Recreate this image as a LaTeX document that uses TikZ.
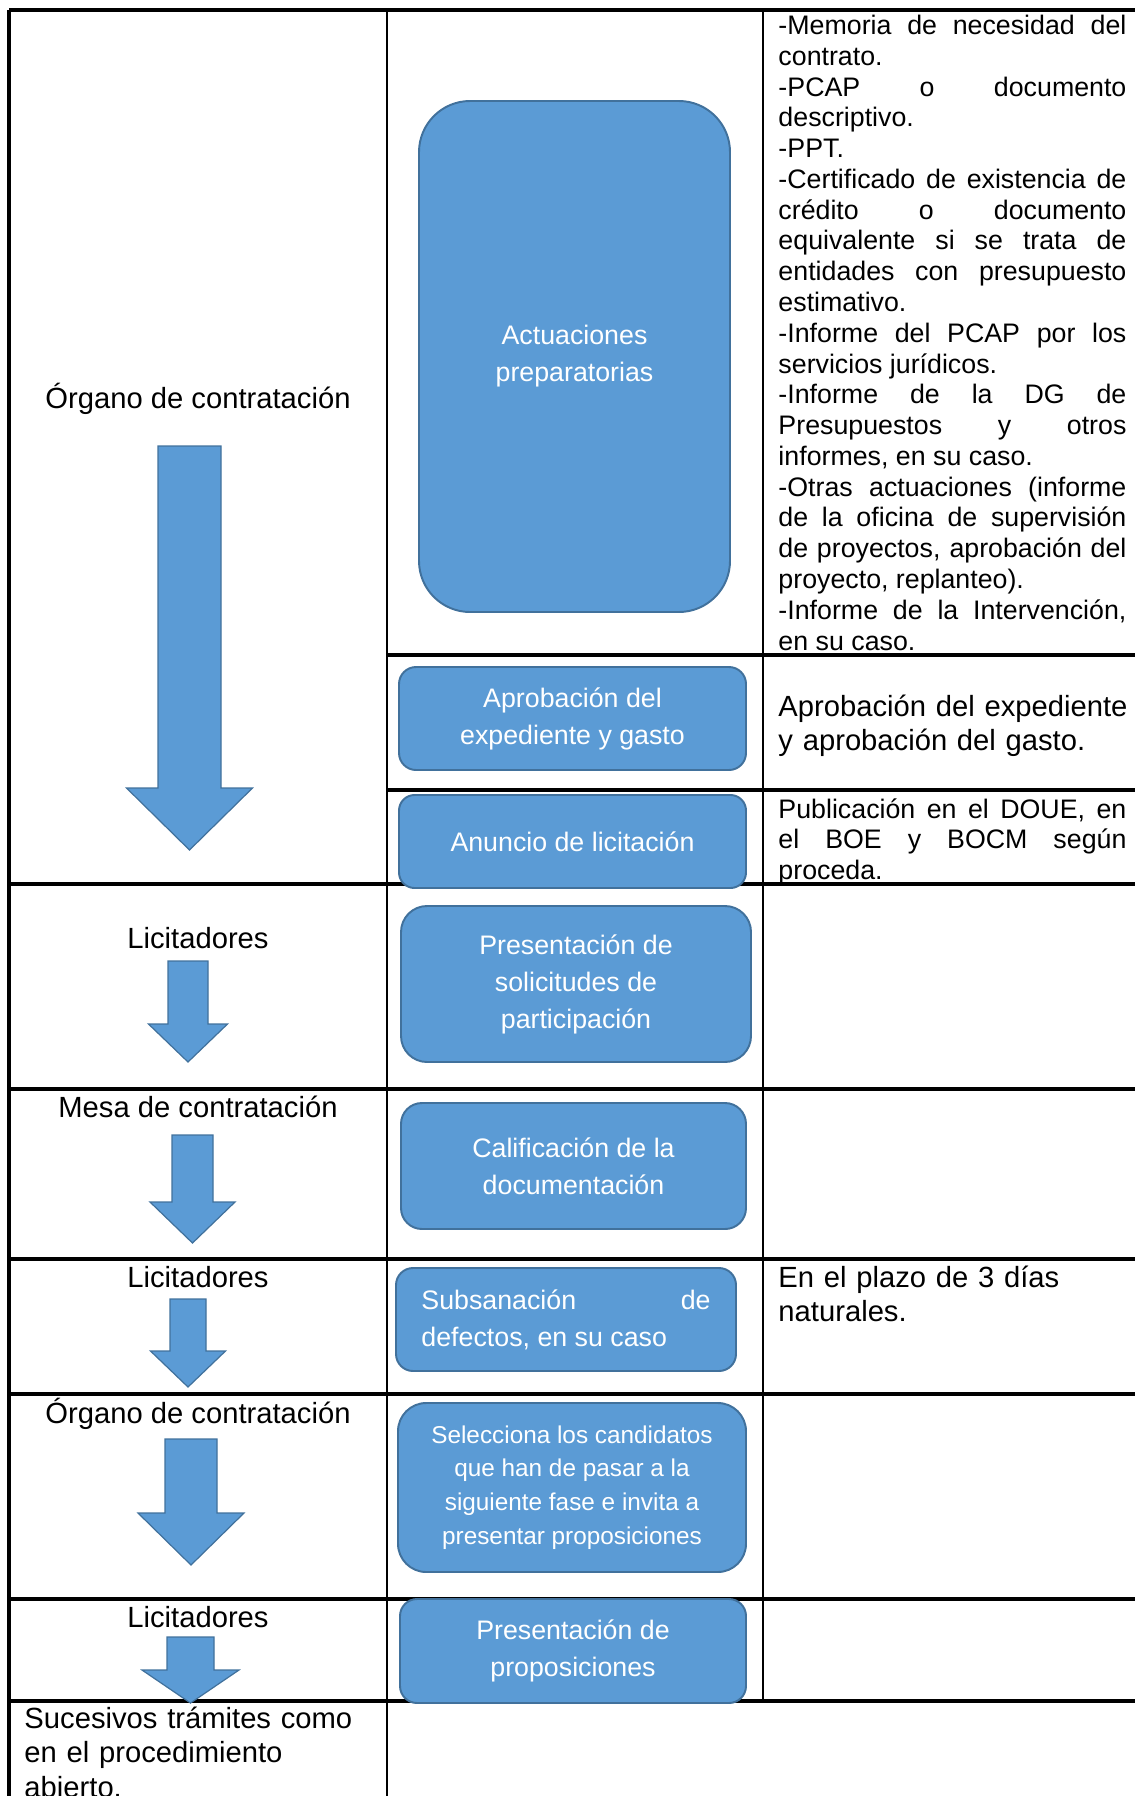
\documentclass[tikz,border=0pt]{standalone}
\usepackage{fontspec}
\setmainfont{Liberation Sans}
\definecolor{stageblue}{RGB}{91,155,213}
\definecolor{stageedge}{RGB}{65,113,156}
% block arrow: centre x, top, shaft half width, head y, head half width, tip y
\newcommand{\blockarrow}[6]{%
  \draw[downblock] (#1-#3,#2) -- (#1+#3,#2) -- (#1+#3,#4) -- (#1+#5,#4) -- (#1,#6) -- (#1-#5,#4) -- (#1-#3,#4) -- cycle;}
\tikzset{
  rule/.style={line width=1.3pt},
  thinrule/.style={line width=0.6pt},
  stage/.style={draw=stageedge, fill=stageblue, line width=0.8pt, text=white,
    font=\fontsize{11}{15.2}\selectfont, align=center, inner sep=0pt},
  stagesize/.style n args={3}{minimum width=#1*0.411pt, minimum height=#2*0.411pt, rounded corners=#3pt},
  downblock/.style={draw=stageedge, fill=stageblue, line width=0.5pt},
  who/.style={font=\fontsize{12}{14.2}\selectfont, anchor=base, inner sep=0pt},
  note/.style={font=\fontsize{11}{12.65}\selectfont, text width=143pt, align=justify,
    anchor=base west, inner sep=0pt},
}

\begin{document}
\begin{tikzpicture}[x=0.411pt, y=-0.411pt]
    \useasboundingbox (0,0) rectangle (1134,1796);

    % Table rules
    \draw[thinrule] (387,10) -- (387,1800);
    \draw[thinrule] (763,10) -- (763,1701);
    \draw[rule] (9,10) -- (1140,10);
    \draw[rule] (9,10) -- (9,1800);
    \draw[rule] (387,655) -- (1140,655);
    \draw[rule] (387,790) -- (1140,790);
    \foreach \y in {884,1089,1259,1394,1599,1701}
        \draw[rule] (9,\y) -- (1140,\y);

    % Who acts (left column)
    \node[who] (organo) at (198,408) {Órgano de contratación};
    \node[who] (licit) at (198,948) {Licitadores};
    \node[who] (mesa) at (198,1117) {Mesa de contratación};
    \node[who] (licitb) at (198,1287) {Licitadores};
    \node[who] (organob) at (198,1423) {Órgano de contratación};
    \node[who] (licitc) at (198,1627) {Licitadores};
    \node[who, anchor=base west, text width=150pt, align=left] (resto) at (24,1728)
        {Sucesivos trámites como\\en el procedimiento\\abierto.};

    % Block arrows
    \blockarrow{189.5}{446}{31.5}{788}{63}{850}
    \blockarrow{188}{961}{20}{1024}{39.5}{1062}
    \blockarrow{192.5}{1135}{20.5}{1202}{42.5}{1243}
    \blockarrow{188}{1299}{18}{1351}{37.5}{1387}
    \blockarrow{191}{1439}{26}{1513}{53}{1565}
    \blockarrow{190.5}{1637}{23.5}{1670}{48.5}{1703}

    % Stages (middle column)
    \node[stage, stagesize={311}{511}{21}] (prep) at (574.5,356.5) {Actuaciones\\preparatorias};
    \node[stage, stagesize={347}{103}{7}] (aprob) at (572.5,718.5) {Aprobación del\\expediente y gasto};
    \node[stage, stagesize={347}{93}{6.4}] (anuncio) at (572.5,841.5) {Anuncio de licitación};
    \node[stage, stagesize={350}{156}{10.7}] (solic) at (576,984) {Presentación de\\solicitudes de\\participación};
    \node[stage, stagesize={345}{126}{8.6}] (calif) at (573.5,1166) {Calificación de la\\documentación};
    \node[stage, stagesize={340}{103}{7}, text width=118.8pt, align=justify] (subsan) at (566,1319.5)
        {Subsanación de\linebreak defectos, en su caso};
    \node[stage, stagesize={348}{169}{11.6}, font=\fontsize{10}{13.85}\selectfont] (selec) at (572,1487.5)
        {Selecciona los candidatos\\que han de pasar a la\\siguiente fase e invita a\\presentar proposiciones};
    \node[stage, stagesize={346}{104}{7}] (propos) at (573,1651) {Presentación de\\proposiciones};

    % Notes (right column)
    \node[note] (docs) at (778,34.5) {-Memoria de necesidad del\linebreak contrato.\\
        -PCAP o documento\linebreak descriptivo.\\
        -PPT.\\
        -Certificado de existencia de\linebreak crédito o documento\linebreak equivalente si se trata de\linebreak entidades con presupuesto\linebreak estimativo.\\
        -Informe del PCAP por los\linebreak servicios jurídicos.\\
        -Informe de la DG de\linebreak Presupuestos y otros\linebreak informes, en su caso.\\
        -Otras actuaciones (informe\linebreak de la oficina de supervisión\linebreak de proyectos, aprobación del\linebreak proyecto, replanteo).\\
        -Informe de la Intervención,\linebreak en su caso.};
    \node[note, font=\fontsize{12}{14}\selectfont, text width=150pt, align=left] (aprobnote) at (778,716)
        {Aprobación del expediente\\y aprobación del gasto.};
    \node[note] (doue) at (778,818) {Publicación en el DOUE, en\linebreak el BOE y BOCM según\linebreak proceda.};
    \node[note, font=\fontsize{12}{14.2}\selectfont, text width=150pt, align=left] (plazo) at (778,1287)
        {En el plazo de 3 días\\naturales.};

\end{tikzpicture}
\end{document}
